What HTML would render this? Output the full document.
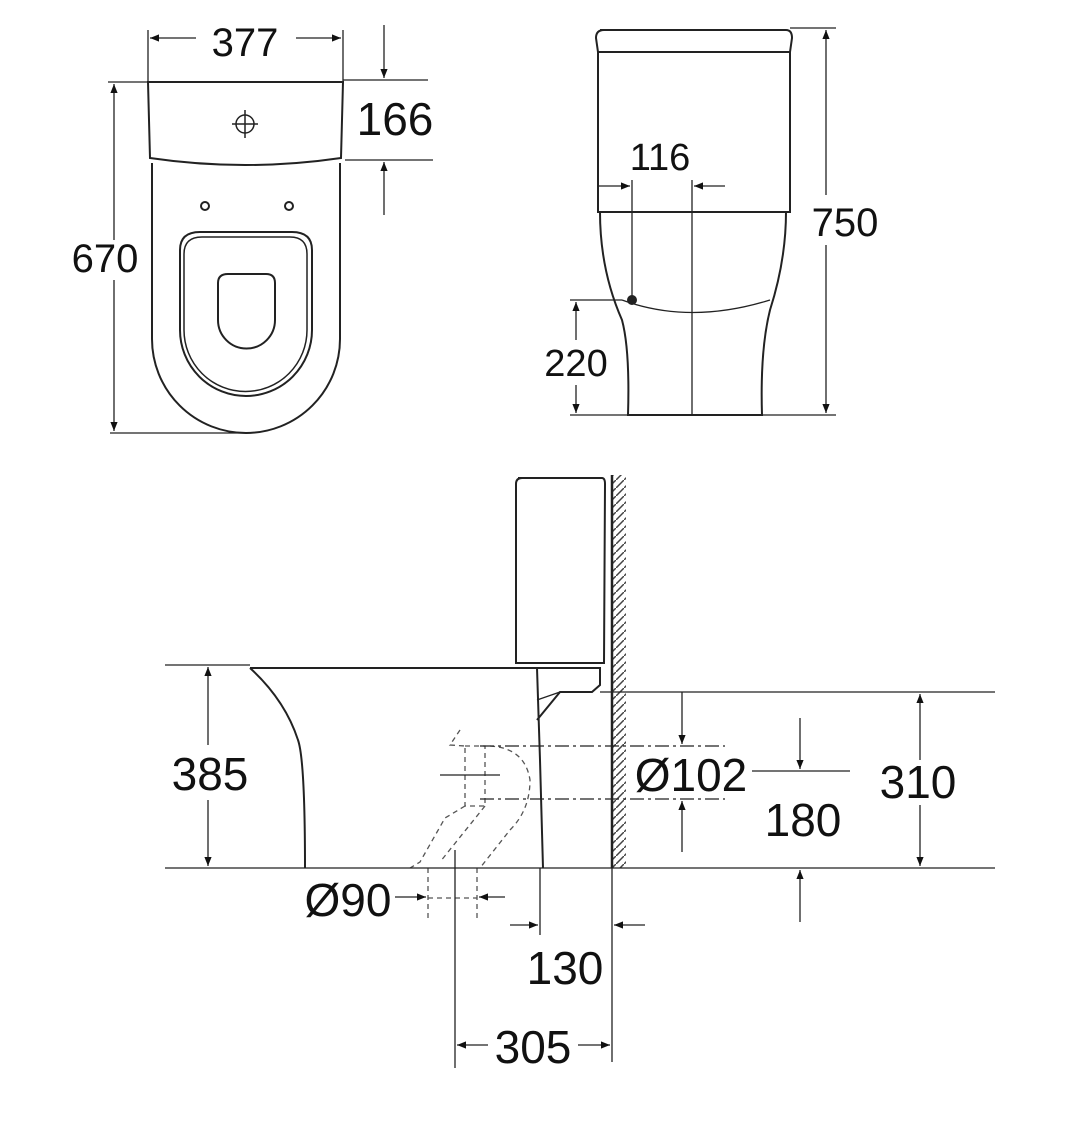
<!DOCTYPE html>
<html><head><meta charset="utf-8"><style>
html,body{margin:0;padding:0;background:#fff;}
svg{display:block;}
text{font-family:"Liberation Sans",sans-serif;fill:#111;}
</style></head><body>
<svg width="1073" height="1126" viewBox="0 0 1073 1126" xmlns="http://www.w3.org/2000/svg">
<defs>
<marker id="a" viewBox="0 0 10 10" refX="10" refY="5" markerWidth="7" markerHeight="7" orient="auto-start-reverse"><path d="M0,1 L10,5 L0,9 z" fill="#111"/></marker>
<pattern id="h" width="8" height="8" patternUnits="userSpaceOnUse"><path d="M0,8 L8,0" stroke="#444" stroke-width="1.5"/></pattern>
</defs>
<g fill="none" stroke="#222" stroke-width="2">
<path d="M148,82 L343,82 L341,158 Q245,172 150,158 Z"/>
<path d="M152,163 L152,339 A94,94 0 0 0 340,339 L340,163"/>
<path d="M180,250 Q180,232 200,232 L292,232 Q312,232 312,250 L312,330 A66,66 0 0 1 180,330 Z"/>
<path d="M184,254 Q184,237 202,237 L290,237 Q307,237 307,254 L307,330 A61,61 0 0 1 184,330 Z" stroke-width="1.5"/>
<path d="M218,283 Q218,274 228,274 L266,274 Q275,274 275,283 L275,320 A28.5,28.5 0 0 1 218,320 Z"/>
<circle cx="205" cy="206" r="4"/><circle cx="289" cy="206" r="4"/>
<circle cx="245" cy="124" r="9" stroke-width="1.5"/><path d="M232,124 L258,124 M245,110 L245,138" stroke-width="1.5"/>
<g stroke-width="1.3">
<path d="M148,30 L148,82 M343,30 L343,82"/>
<path d="M196,38 L150,38" marker-end="url(#a)"/>
<path d="M296,38 L341,38" marker-end="url(#a)"/>
<path d="M108,82 L148,82 M110,433 L245,433"/>
<path d="M114,240 L114,84" marker-end="url(#a)"/>
<path d="M114,280 L114,431" marker-end="url(#a)"/>
<path d="M343,80 L428,80 M345,160 L433,160"/>
<path d="M384,25 L384,78" marker-end="url(#a)"/>
<path d="M384,215 L384,162" marker-end="url(#a)"/>
</g>
<path d="M600,30 L786,30 Q792,30 792,38 L790,52 L598,52 L596,38 Q596,30 604,30 Z"/>
<path d="M598,52 L598,212 L790,212 L790,52"/>
<path d="M600,212 Q600,270 622,320 Q630,350 628,415 L762,415 Q760,350 770,310 Q786,260 786,212"/>
<path d="M622,300 Q690,325 770,300" stroke-width="1.3"/>
<circle cx="632" cy="300" r="4" fill="#222"/>
<g stroke-width="1.3">
<path d="M632,180 L632,300 M692,180 L692,415"/>
<path d="M598,186 L630,186" marker-end="url(#a)"/>
<path d="M725,186 L694,186" marker-end="url(#a)"/>
<path d="M790,28 L836,28 M570,415 L836,415 M570,300 L622,300"/>
<path d="M826,195 L826,30" marker-end="url(#a)"/>
<path d="M826,245 L826,413" marker-end="url(#a)"/>
<path d="M576,340 L576,302" marker-end="url(#a)"/>
<path d="M576,385 L576,413" marker-end="url(#a)"/>
</g>
<path d="M518,478 L602,478 Q605,478 605,484 L604,663 L516,663 L516,484 Q516,478 522,478 Z"/>
<path d="M250,668 L540,668"/>
<path d="M250,668 Q285,700 298,740 Q305,760 305,868"/>
<path d="M537,668 L540,760 L543,868"/>
<path d="M537,668 L600,668 L600,685 L592,692 L560,692 L537,720"/>
<path d="M560,692 L537,700" stroke-width="1.3"/>
<rect x="612" y="475" width="14" height="393" fill="url(#h)" stroke="none"/>
<path d="M612,475 L612,868" stroke-width="2.5"/>
<g stroke-width="1.3" stroke-dasharray="5,4" stroke="#555">
<path d="M465,746 L485,746 L485,806 L465,806 Z"/>
<path d="M490,746 Q525,748 530,780 Q530,810 510,830 L480,868"/>
<path d="M465,806 L445,818 L420,862 L410,868"/>
<path d="M485,806 L440,862"/>
<path d="M460,730 L450,745 L465,746"/>
<path d="M428,868 L428,920 M477,868 L477,920 M428,898 L477,898"/>
</g>
<path d="M440,775 L500,775 M455,850 L455,1068" stroke-width="1.3"/>
<g stroke-width="1.3">
<path d="M165,665 L250,665 M165,868 L995,868 M600,692 L995,692"/>
<path d="M208,745 L208,667" marker-end="url(#a)"/>
<path d="M208,800 L208,866" marker-end="url(#a)"/>
<path d="M920,760 L920,694" marker-end="url(#a)"/>
<path d="M920,805 L920,866" marker-end="url(#a)"/>
<path d="M682,692 L682,744" marker-end="url(#a)"/>
<path d="M682,852 L682,801" marker-end="url(#a)"/>
<path d="M800,718 L800,769" marker-end="url(#a)"/>
<path d="M800,922 L800,870" marker-end="url(#a)"/>
<path d="M752,771 L850,771"/>
<path d="M480,746 L725,746 M480,799 L725,799" stroke-dasharray="14,4,3,4"/>
<path d="M395,897 L426,897" marker-end="url(#a)"/>
<path d="M505,897 L479,897" marker-end="url(#a)"/>
<path d="M540,868 L540,935 M612,868 L612,1062"/>
<path d="M510,925 L538,925" marker-end="url(#a)"/>
<path d="M645,925 L614,925" marker-end="url(#a)"/>
<path d="M488,1045 L457,1045" marker-end="url(#a)"/>
<path d="M578,1045 L610,1045" marker-end="url(#a)"/>
</g>
</g>
<g font-size="40">
<text x="245" y="56" text-anchor="middle">377</text>
<text x="105" y="272" text-anchor="middle">670</text>
<text x="660" y="170" text-anchor="middle" font-size="38">116</text>
<text x="845" y="236" text-anchor="middle">750</text>
<text x="576" y="376" text-anchor="middle" font-size="38">220</text>
</g>
<g font-size="46">
<text x="395" y="135" text-anchor="middle">166</text>
<text x="210" y="790" text-anchor="middle">385</text>
<text x="918" y="798" text-anchor="middle">310</text>
<text x="803" y="836" text-anchor="middle">180</text>
<text x="691" y="791" text-anchor="middle">Ø102</text>
<text x="348" y="916" text-anchor="middle">Ø90</text>
<text x="565" y="984" text-anchor="middle">130</text>
<text x="533" y="1063" text-anchor="middle">305</text>
</g>
</svg>
</body></html>
